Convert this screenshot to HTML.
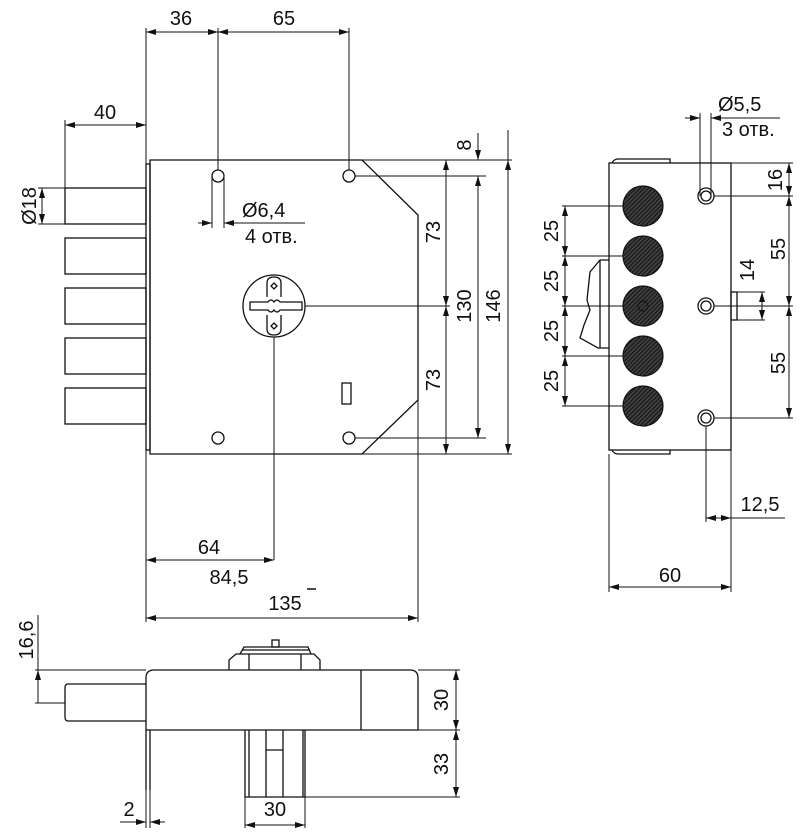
<!DOCTYPE html>
<html><head><meta charset="utf-8"><style>html,body{margin:0;padding:0;background:#fff}svg{display:block}text{font-family:"Liberation Sans",sans-serif;font-size:20px;fill:#111}</style></head>
<body>
<svg width="808" height="835" viewBox="0 0 808 835" xmlns="http://www.w3.org/2000/svg">
<defs>
<marker id="a" viewBox="0 0 10 6" refX="10" refY="3" markerWidth="10" markerHeight="6" markerUnits="userSpaceOnUse" orient="auto-start-reverse"><path d="M0,0L10,3L0,6z" fill="#111"/></marker>
<pattern id="h" width="3" height="3" patternUnits="userSpaceOnUse" patternTransform="rotate(45)"><rect width="3" height="3" fill="#444"/><rect width="1.4" height="3" fill="#1a1a1a"/></pattern>
</defs>
<g stroke="#111" stroke-width="1.3" fill="none">
<path d="M150,160 H362 L418,215 V400 L362,454 H150 Z"/>
<rect x="146" y="164" width="4" height="286"/>
<rect x="65" y="188" width="81" height="36"/><rect x="65" y="238" width="81" height="36"/><rect x="65" y="288" width="81" height="36"/><rect x="65" y="338" width="81" height="36"/><rect x="65" y="388" width="81" height="36"/>
<circle cx="218" cy="176" r="6"/><circle cx="349" cy="176" r="6"/><circle cx="218" cy="438" r="6"/><circle cx="349" cy="438" r="6"/>
<circle cx="274" cy="306" r="31"/>
<path d="M267,297 V283 Q267,277 274,277 Q281,277 281,283 V297"/>
<path d="M267,315 V329 Q267,335 274,335 Q281,335 281,329 V315"/>
<path d="M250,302 H268 Q271,298 274,302 Q277,298 280,302 H302 V310 H280 Q277,314 274,310 Q271,314 268,310 H250 Z"/>
<path d="M274,283 l3,3 -3,3 -3,-3z M274,323 l3,3 -3,3 -3,-3z"/>
<rect x="342" y="383" width="9" height="21"/>
</g>
<g stroke="#111" stroke-width="1" fill="none">
<path d="M146,28 V622 M218,28 V170 M349,28 V170 M65,120 V188 M38,188 H65 M38,224 H65 M212,176 V228 M224,176 V228 M274,337 V560 M418,400 V622"/>
<path d="M362,160 H512 M355,176 H486 M355,438 H486 M362,454 H512 M305,306 H450"/>
<path d="M146,32 H218" marker-start="url(#a)" marker-end="url(#a)"/>
<path d="M218,32 H349" marker-start="url(#a)" marker-end="url(#a)"/>
<path d="M65,125 H146" marker-start="url(#a)" marker-end="url(#a)"/>
<path d="M42,188 V224" marker-start="url(#a)" marker-end="url(#a)"/>
<path d="M198,223 H212" marker-end="url(#a)"/><path d="M305,223 H224" marker-end="url(#a)"/>
<path d="M446,160 V306" marker-start="url(#a)" marker-end="url(#a)"/>
<path d="M446,306 V454" marker-start="url(#a)" marker-end="url(#a)"/>
<path d="M478,133 V160" marker-end="url(#a)"/><path d="M478,176 V438" marker-start="url(#a)" marker-end="url(#a)"/>
<path d="M508,130 V160"/><path d="M508,160 V454" marker-start="url(#a)" marker-end="url(#a)"/>
<path d="M146,560 H274" marker-start="url(#a)" marker-end="url(#a)"/>
<path d="M146,618 H418" marker-start="url(#a)" marker-end="url(#a)"/>
<path d="M307,589 H316" stroke-width="1.5"/>
</g>
<text x="181" y="25" text-anchor="middle">36</text>
<text x="284" y="25" text-anchor="middle">65</text>
<text x="105" y="119" text-anchor="middle">40</text>
<text transform="translate(36,206) rotate(-90)" text-anchor="middle">Ø18</text>
<text x="242" y="217">Ø6,4</text>
<text x="245" y="243">4 отв.</text>
<text transform="translate(440,232) rotate(-90)" text-anchor="middle">73</text>
<text transform="translate(440,380) rotate(-90)" text-anchor="middle">73</text>
<text transform="translate(471,306) rotate(-90)" text-anchor="middle">130</text>
<text transform="translate(500,306) rotate(-90)" text-anchor="middle">146</text>
<text transform="translate(471,145) rotate(-90)" text-anchor="middle">8</text>
<text x="209" y="554" text-anchor="middle">64</text>
<text x="229" y="584" text-anchor="middle">84,5</text>
<text x="285" y="610" text-anchor="middle">135</text>
<g stroke="#111" stroke-width="1.3" fill="none">
<rect x="609" y="163" width="122" height="287"/>
<path d="M612,163 Q614,159 618,159 H670 V163 M612,450 Q614,454 618,454 H670 V450"/>
<path d="M609,260 H600 L590,272 L587,300 L590,310 L584,325 L580,338 L598,348 H609 M600,260 V348"/>
<rect x="731" y="292" width="6" height="28"/>
<circle cx="706" cy="196" r="8"/><circle cx="706" cy="196" r="5"/>
<circle cx="706" cy="306" r="8"/><circle cx="706" cy="306" r="5"/>
<circle cx="706" cy="418" r="8"/><circle cx="706" cy="418" r="5"/>
</g>
<g stroke="#111" stroke-width="1.2" fill="url(#h)">
<circle cx="643" cy="206" r="20"/><circle cx="643" cy="256" r="20"/><circle cx="643" cy="306" r="20"/><circle cx="643" cy="356" r="20"/><circle cx="643" cy="406" r="20"/>
</g>
<circle cx="643" cy="306" r="5" fill="none" stroke="#111"/>
<g stroke="#111" stroke-width="1" fill="none">
<path d="M562,206 H623 M562,256 H623 M562,306 H623 M562,356 H623 M562,406 H623"/>
<path d="M565,206 V256" marker-start="url(#a)" marker-end="url(#a)"/>
<path d="M565,256 V306" marker-start="url(#a)" marker-end="url(#a)"/>
<path d="M565,306 V356" marker-start="url(#a)" marker-end="url(#a)"/>
<path d="M565,356 V406" marker-start="url(#a)" marker-end="url(#a)"/>
<path d="M700,113 V196 M711,113 V196"/>
<path d="M685,118 H700" marker-end="url(#a)"/><path d="M780,118 H711" marker-end="url(#a)"/>
<path d="M731,163 H793 M714,196 H793 M714,306 H793 M714,418 H793 M737,292 H765 M737,320 H765"/>
<path d="M789,163 V196" marker-start="url(#a)" marker-end="url(#a)"/>
<path d="M789,196 V306" marker-start="url(#a)" marker-end="url(#a)"/>
<path d="M789,306 V418" marker-start="url(#a)" marker-end="url(#a)"/>
<path d="M762,292 V320" marker-start="url(#a)" marker-end="url(#a)"/>
<path d="M706,426 V522 M731,450 V592 M609,454 V592"/>
<path d="M706,518 H731" marker-start="url(#a)" marker-end="url(#a)"/><path d="M731,518 H785"/>
<path d="M609,587 H731" marker-start="url(#a)" marker-end="url(#a)"/>
</g>
<text transform="translate(558,231) rotate(-90)" text-anchor="middle">25</text>
<text transform="translate(558,281) rotate(-90)" text-anchor="middle">25</text>
<text transform="translate(558,331) rotate(-90)" text-anchor="middle">25</text>
<text transform="translate(558,381) rotate(-90)" text-anchor="middle">25</text>
<text x="718" y="111">Ø5,5</text>
<text x="722" y="136">3 отв.</text>
<text transform="translate(782,180) rotate(-90)" text-anchor="middle">16</text>
<text transform="translate(785,249) rotate(-90)" text-anchor="middle">55</text>
<text transform="translate(785,363) rotate(-90)" text-anchor="middle">55</text>
<text transform="translate(754,270) rotate(-90)" text-anchor="middle">14</text>
<text x="760" y="511" text-anchor="middle">12,5</text>
<text x="670" y="582" text-anchor="middle">60</text>
<g stroke="#111" stroke-width="1.3" fill="none">
<path d="M146,730 V678 Q146,670 154,670 H410 Q418,670 418,678 V730 Z M361,670 V730"/>
<path d="M146,684 H68 Q65,684 65,688 V717 Q65,721 68,721 H146"/>
<path d="M229,670 V660 L236,654 H314 L320,660 V670 M249,670 V654 M301,670 V654"/>
<path d="M240,654 L244,647 H308 L311,654 M242,650 H310"/>
<rect x="272" y="640" width="7" height="7"/>
<path d="M245,730 V797 H305 V730 M249,730 V797 M303,730 V797 M266,730 V797 M283,730 V797 M266,750 H283"/>
<path d="M146,730 V790 M150,730 V790"/>
</g>
<g stroke="#111" stroke-width="1" fill="none">
<path d="M418,670 H460 M418,730 H460 M305,797 H460"/>
<path d="M456,670 V730" marker-start="url(#a)" marker-end="url(#a)"/>
<path d="M456,730 V797" marker-start="url(#a)" marker-end="url(#a)"/>
<path d="M35,670 H146 M35,703 H65 M38,615 V670"/>
<path d="M38,703 V670" marker-end="url(#a)"/>
<path d="M150,790 V828 M146,790 V828"/>
<path d="M120,822 H146" marker-end="url(#a)"/><path d="M165,822 H150" marker-end="url(#a)"/>
<path d="M245,797 V828 M305,797 V828"/>
<path d="M245,825 H305" marker-start="url(#a)" marker-end="url(#a)"/>
</g>
<text transform="translate(448,700) rotate(-90)" text-anchor="middle">30</text>
<text transform="translate(448,764) rotate(-90)" text-anchor="middle">33</text>
<text transform="translate(33,640) rotate(-90)" text-anchor="middle">16,6</text>
<text x="129" y="816" text-anchor="middle">2</text>
<text x="275" y="816" text-anchor="middle">30</text>
</svg>
</body></html>
